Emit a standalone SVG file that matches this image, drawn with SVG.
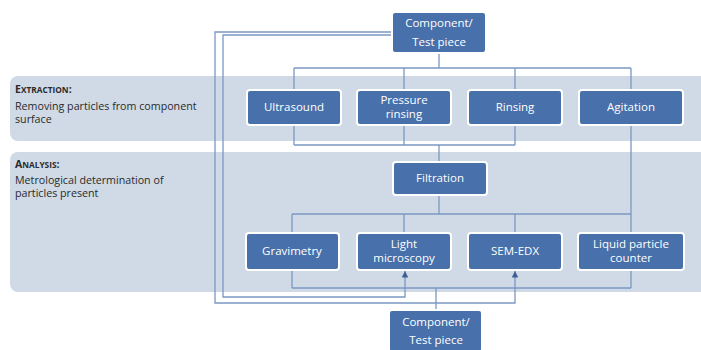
<svg xmlns="http://www.w3.org/2000/svg" width="701" height="350" viewBox="0 0 701 350">
<defs>
<style>
.band{fill:#d0dae7}
.node rect{fill:#4870aa;stroke:#ffffff;stroke-width:2}
.node text{fill:#ffffff;font-family:"Open Sans","Noto Sans",sans-serif;font-size:11.5px;text-anchor:middle}
.lbl{fill:#2a2a2a;font-family:"Open Sans","Noto Sans",sans-serif;font-size:10.7px}
.hd{font-weight:bold;font-size:8.3px}
.hd .cap{font-size:10.5px}
#connectors path{fill:none;stroke:#7b98c2;stroke-width:1.3}
</style>
<marker id="arr" viewBox="0 0 10 10" refX="10" refY="5" markerWidth="5" markerHeight="5" orient="auto">
<path d="M0,0 L10,5 L0,10 Z" fill="#3d5f95"/>
</marker>
</defs>
<rect width="701" height="350" fill="#ffffff"/>
<g id="bands">
<rect class="band" x="10" y="76" width="700" height="65" rx="8"/>
<rect class="band" x="10" y="152" width="700" height="140" rx="8"/>
<text class="lbl hd" x="15" y="93"><tspan class="cap">E</tspan>XTRACTION<tspan class="cap">:</tspan></text>
<text class="lbl" x="15" y="110">Removing particles from component</text>
<text class="lbl" x="15" y="123">surface</text>
<text class="lbl hd" x="15" y="168"><tspan class="cap">A</tspan>NALYSIS<tspan class="cap">:</tspan></text>
<text class="lbl" x="15" y="184">Metrological determination of</text>
<text class="lbl" x="15" y="197">particles present</text>
</g>
<g id="connectors">
<path d="M439,53 V68 M294,68 H631 M294,68 V145 M404,68 V91 M515,68 V145 M631,68 V288"/>
<path d="M294,145 H515 M404,125 V145 M439,145 V162"/>
<path d="M439,195 V214 M292,214 H631 M292,214 V288 M404,214 V233 M515,214 V233"/>
<path d="M292,288 H631 M436,288 V310"/>
<path d="M392,32 H215 V303 H515 V271" marker-end="url(#arr)"/>
<path d="M392,35 H223 V297 H405 V271" marker-end="url(#arr)"/>
</g>
<g id="n-top" class="node"><rect x="392" y="12" width="94" height="41" rx="3"/><text x="439" y="27">Component/</text><text x="439" y="46">Test piece</text></g>
<g id="n-ultrasound" class="node"><rect x="247" y="90" width="94" height="35" rx="3"/><text x="294" y="111">Ultrasound</text></g>
<g id="n-pressure" class="node"><rect x="357" y="90" width="94" height="35" rx="3"/><text x="404" y="104">Pressure</text><text x="404" y="118">rinsing</text></g>
<g id="n-rinsing" class="node"><rect x="468" y="90" width="94" height="35" rx="3"/><text x="515" y="111">Rinsing</text></g>
<g id="n-agitation" class="node"><rect x="579" y="90" width="104" height="35" rx="3"/><text x="631" y="111">Agitation</text></g>
<g id="n-filtration" class="node"><rect x="393" y="162" width="94" height="33" rx="3"/><text x="440" y="182">Filtration</text></g>
<g id="n-gravimetry" class="node"><rect x="246" y="233" width="93" height="37" rx="3"/><text x="292" y="255">Gravimetry</text></g>
<g id="n-light" class="node"><rect x="357" y="233" width="94" height="37" rx="3"/><text x="404" y="248">Light</text><text x="404" y="262">microscopy</text></g>
<g id="n-sem" class="node"><rect x="468" y="233" width="94" height="37" rx="3"/><text x="515" y="255">SEM-EDX</text></g>
<g id="n-liquid" class="node"><rect x="578" y="233" width="106" height="37" rx="3"/><text x="631" y="248">Liquid particle</text><text x="631" y="262">counter</text></g>
<g id="n-bottom" class="node"><rect x="389" y="310" width="93" height="42" rx="3"/><text x="436" y="326">Component/</text><text x="436" y="344">Test piece</text></g>
</svg>
